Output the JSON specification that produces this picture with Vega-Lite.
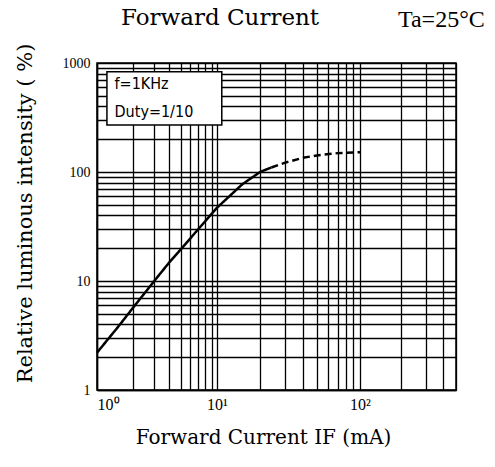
{
  "$schema": "https://vega.github.io/schema/vega-lite/v6.json",
  "width": 359,
  "height": 327,
  "autosize": "none",
  "padding": {"left": 97, "top": 63, "right": 39, "bottom": 77},
  "background": "white",
  "config": {
    "view": {"stroke": "black", "strokeWidth": 1.5},
    "font": "Liberation Serif"
  },
  "datasets": {
    "curve": [
      {"I": 1, "L": 2.2, "seg": "solid"},
      {"I": 1.5, "L": 3.8, "seg": "solid"},
      {"I": 2, "L": 5.7, "seg": "solid"},
      {"I": 3, "L": 10, "seg": "solid"},
      {"I": 4, "L": 14.8, "seg": "solid"},
      {"I": 5, "L": 19.5, "seg": "solid"},
      {"I": 7, "L": 30, "seg": "solid"},
      {"I": 10, "L": 47, "seg": "solid"},
      {"I": 15, "L": 77, "seg": "solid"},
      {"I": 20, "L": 100, "seg": "solid"},
      {"I": 24, "L": 110, "seg": "solid"},
      {"I": 24, "L": 110, "seg": "dashed"},
      {"I": 30, "L": 122, "seg": "dashed"},
      {"I": 40, "L": 135, "seg": "dashed"},
      {"I": 50, "L": 142, "seg": "dashed"},
      {"I": 70, "L": 149, "seg": "dashed"},
      {"I": 100, "L": 152, "seg": "dashed"}
    ],
    "box": [{"x1": 1.21, "x2": 10.8, "y1": 270, "y2": 830}],
    "notes": [
      {"x": 1.4, "y": 640, "t": "f=1KHz"},
      {"x": 1.4, "y": 355, "t": "Duty=1/10"}
    ],
    "heads": [
      {"x": 10.5, "y": 2590, "t": "Forward Current", "a": "center"},
      {"x": 189, "y": 2470, "t": "Ta=25°C", "a": "left"}
    ]
  },
  "layer": [
    {
      "data": {"name": "curve"},
      "mark": {"type": "line", "color": "black", "strokeWidth": 2.5},
      "encoding": {
        "x": {
          "field": "I",
          "type": "quantitative",
          "scale": {"type": "log", "domain": [1, 10, 100, 500], "range": [0, 120, 263, 359], "nice": false},
          "axis": {
            "title": "Forward Current   IF (mA)",
            "values": [1,2,3,4,5,6,7,8,9,10,20,30,40,50,60,70,80,90,100,200,300,400,500],
            "grid": true,
            "gridColor": "black",
            "gridWidth": 1.3,
            "gridOpacity": 1,
            "ticks": false,
            "domainColor": "black",
            "domainWidth": 1.5,
            "labelExpr": "datum.value == 1 ? '10⁰' : datum.value == 10 ? '10¹' : datum.value == 100 ? '10²' : ''",
            "labelOverlap": false,
            "labelFont": "Liberation Serif",
            "labelFontSize": 16,
            "labelColor": "black",
            "labelPadding": 6,
            "titleFont": "DejaVu Serif",
            "titleFontSize": 20,
            "titleFontWeight": "normal",
            "titleColor": "black",
            "titleX": 166,
            "titlePadding": 15
          }
        },
        "y": {
          "field": "L",
          "type": "quantitative",
          "scale": {"type": "log", "domain": [1, 1000], "nice": false},
          "axis": {
            "title": "Relative luminous intensity ( %)",
            "values": [1,2,3,4,5,6,7,8,9,10,20,30,40,50,60,70,80,90,100,200,300,400,500,600,700,800,900,1000],
            "grid": true,
            "gridColor": "black",
            "gridWidth": 1.3,
            "gridOpacity": 1,
            "ticks": false,
            "domainColor": "black",
            "domainWidth": 1.5,
            "labelExpr": "(datum.value == 1 || datum.value == 10 || datum.value == 100 || datum.value == 1000) ? datum.value + '' : ''",
            "labelOverlap": false,
            "labelFont": "Liberation Serif",
            "labelFontSize": 14,
            "labelColor": "black",
            "labelPadding": 7,
            "titleFont": "DejaVu Serif",
            "titleFontSize": 21,
            "titleFontWeight": "normal",
            "titleColor": "black",
            "titleX": -62,
            "titleY": 150
          }
        },
        "strokeDash": {
          "field": "seg",
          "type": "nominal",
          "scale": {"domain": ["solid", "dashed"], "range": [[1, 0], [7, 4]]},
          "legend": null
        }
      }
    },
    {
      "data": {"name": "box"},
      "mark": {"type": "rect", "fill": "white", "stroke": "black", "strokeWidth": 1.5},
      "encoding": {
        "x": {"field": "x1", "type": "quantitative"},
        "x2": {"field": "x2"},
        "y": {"field": "y1", "type": "quantitative"},
        "y2": {"field": "y2"}
      }
    },
    {
      "data": {"name": "notes"},
      "mark": {"type": "text", "align": "left", "baseline": "middle", "font": "DejaVu Sans Condensed", "fontSize": 16, "color": "black"},
      "encoding": {
        "x": {"field": "x", "type": "quantitative"},
        "y": {"field": "y", "type": "quantitative"},
        "text": {"field": "t"}
      }
    },
    {
      "data": {"name": "heads"},
      "transform": [{"filter": "datum.a == 'center'"}],
      "mark": {"type": "text", "align": "center", "baseline": "middle", "font": "DejaVu Serif", "fontSize": 23, "color": "black"},
      "encoding": {
        "x": {"field": "x", "type": "quantitative"},
        "y": {"field": "y", "type": "quantitative"},
        "text": {"field": "t"}
      }
    },
    {
      "data": {"name": "heads"},
      "transform": [{"filter": "datum.a == 'left'"}],
      "mark": {"type": "text", "align": "left", "baseline": "middle", "font": "Liberation Serif", "fontSize": 24, "color": "black"},
      "encoding": {
        "x": {"field": "x", "type": "quantitative"},
        "y": {"field": "y", "type": "quantitative"},
        "text": {"field": "t"}
      }
    }
  ]
}
